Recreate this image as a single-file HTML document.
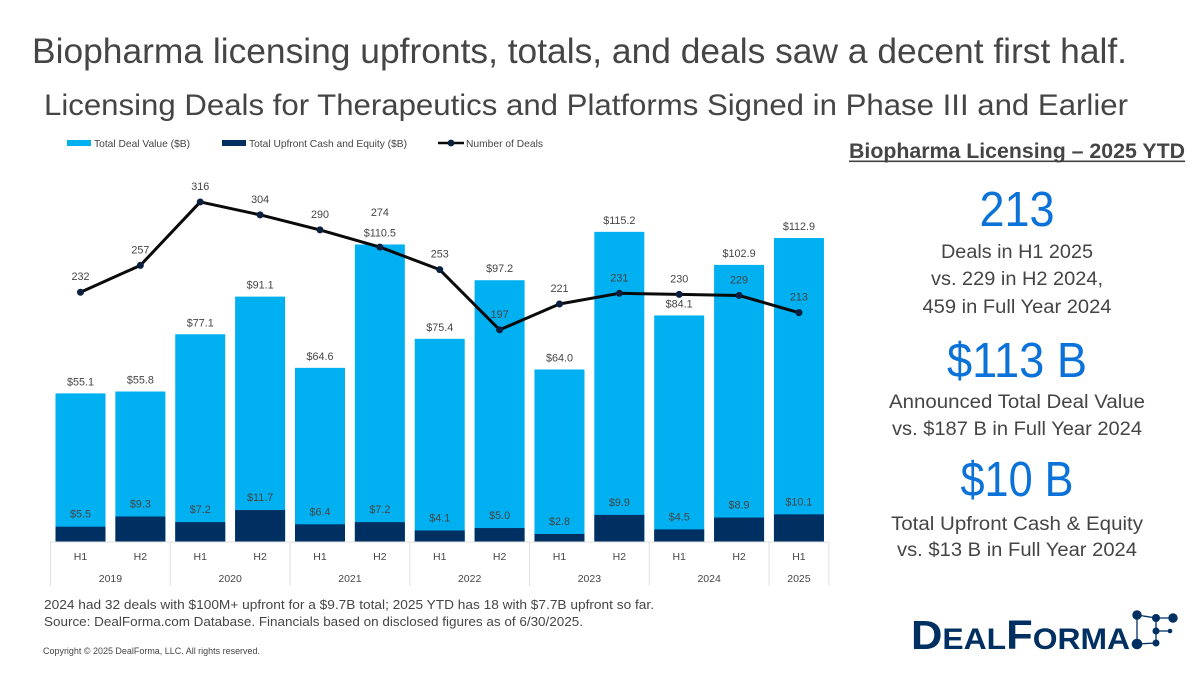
<!DOCTYPE html>
<html lang="en">
<head>
<meta charset="utf-8">
<title>Biopharma licensing</title>
<style>
html,body{margin:0;padding:0;background:#fff;}
body{width:1200px;height:675px;overflow:hidden;}
svg{display:block;font-family:"Liberation Sans",sans-serif;}
text{fill:#454545;}
.c{text-anchor:middle;}
</style>
</head>
<body>
<svg id="slide" width="1200" height="675" viewBox="0 0 1200 675" xmlns="http://www.w3.org/2000/svg">
  <rect width="1200" height="675" fill="#fff"/>
  <text x="32" y="63" font-size="35" textLength="1095" lengthAdjust="spacingAndGlyphs">Biopharma licensing upfronts, totals, and deals saw a decent first half.</text>
  <text x="44" y="115" font-size="30" textLength="1084" lengthAdjust="spacingAndGlyphs">Licensing Deals for Therapeutics and Platforms Signed in Phase III and Earlier</text>

  <g>
    <rect x="67" y="140" width="24" height="6" fill="#00B0F0"/>
    <text x="94" y="147" font-size="10.5" textLength="96" lengthAdjust="spacingAndGlyphs">Total Deal Value ($B)</text>
    <rect x="222" y="140" width="24" height="6" fill="#002F62"/>
    <text x="249" y="147" font-size="10.5" textLength="158" lengthAdjust="spacingAndGlyphs">Total Upfront Cash and Equity ($B)</text>
    <line x1="438" y1="143" x2="464" y2="143" stroke="#0a0a0a" stroke-width="2.6"/>
    <circle cx="451" cy="143" r="3.4" fill="#0b1f3f"/>
    <text x="466" y="147" font-size="10.5" textLength="77" lengthAdjust="spacingAndGlyphs">Number of Deals</text>
  </g>

  <g id="chart"></g>

  <text x="44" y="609" font-size="13.2" textLength="610" lengthAdjust="spacingAndGlyphs">2024 had 32 deals with $100M+ upfront for a $9.7B total; 2025 YTD has 18 with $7.7B upfront so far.</text>
  <text x="44" y="626" font-size="13.2" textLength="539" lengthAdjust="spacingAndGlyphs">Source: DealForma.com Database. Financials based on disclosed figures as of 6/30/2025.</text>
  <text x="43" y="654" font-size="9" textLength="217" lengthAdjust="spacingAndGlyphs">Copyright © 2025 DealForma, LLC. All rights reserved.</text>

  <g>
    <text x="849" y="158" font-size="21" font-weight="bold" textLength="336" lengthAdjust="spacingAndGlyphs">Biopharma Licensing – 2025 YTD</text>
    <rect x="849" y="160.5" width="336" height="1.6" fill="#404040"/>
    <text class="c" x="1017" y="226" font-size="49" style="fill:#0B72D9" textLength="75" lengthAdjust="spacingAndGlyphs">213</text>
    <text class="c" x="1017" y="258" font-size="19" textLength="152" lengthAdjust="spacingAndGlyphs">Deals in H1 2025</text>
    <text class="c" x="1017" y="285" font-size="19" textLength="172" lengthAdjust="spacingAndGlyphs">vs. 229 in H2 2024,</text>
    <text class="c" x="1017" y="313" font-size="19" textLength="189" lengthAdjust="spacingAndGlyphs">459 in Full Year 2024</text>
    <text class="c" x="1017" y="377" font-size="49" style="fill:#0B72D9" textLength="140" lengthAdjust="spacingAndGlyphs">$113 B</text>
    <text class="c" x="1017" y="408" font-size="19" textLength="256" lengthAdjust="spacingAndGlyphs">Announced Total Deal Value</text>
    <text class="c" x="1017" y="435" font-size="19" textLength="250" lengthAdjust="spacingAndGlyphs">vs. $187 B in Full Year 2024</text>
    <text class="c" x="1017" y="496" font-size="49" style="fill:#0B72D9" textLength="113" lengthAdjust="spacingAndGlyphs">$10 B</text>
    <text class="c" x="1017" y="530" font-size="19" textLength="252" lengthAdjust="spacingAndGlyphs">Total Upfront Cash &amp; Equity</text>
    <text class="c" x="1017" y="556" font-size="19" textLength="240" lengthAdjust="spacingAndGlyphs">vs. $13 B in Full Year 2024</text>
  </g>

  <g>
    <text x="911" y="649" font-size="30" font-weight="bold" style="fill:#002F62" textLength="219" lengthAdjust="spacingAndGlyphs"><tspan font-size="41">D</tspan>EAL<tspan font-size="41">F</tspan>ORMA</text>
    <g stroke="#002F62" stroke-width="1.3" fill="#002F62">
      <line x1="1137" y1="615" x2="1156" y2="618"/>
      <line x1="1156" y1="618" x2="1173" y2="618"/>
      <line x1="1137" y1="615" x2="1137" y2="644"/>
      <line x1="1156" y1="618" x2="1156" y2="643"/>
      <line x1="1156" y1="631" x2="1170" y2="631"/>
      <line x1="1137" y1="644" x2="1156" y2="643"/>
      <circle cx="1137" cy="615" r="4.7" stroke="none"/>
      <circle cx="1156" cy="618" r="4" stroke="none"/>
      <circle cx="1173" cy="618" r="4.7" stroke="none"/>
      <circle cx="1156" cy="631" r="3.5" stroke="none"/>
      <circle cx="1170" cy="631" r="2.3" stroke="none"/>
      <circle cx="1137" cy="644" r="5.3" stroke="none"/>
      <circle cx="1156" cy="643" r="3.5" stroke="none"/>
    </g>
  </g>
</svg>
<script>
const halves = ["H1","H2","H1","H2","H1","H2","H1","H2","H1","H2","H1","H2","H1"];
const years = ["2019","2020","2021","2022","2023","2024","2025"];
const yearSpans = [2,2,2,2,2,2,1];
const totalValue = [55.1,55.8,77.1,91.1,64.6,110.5,75.4,97.2,64.0,115.2,84.1,102.9,112.9];
const upfrontValue = [5.5,9.3,7.2,11.7,6.4,7.2,4.1,5.0,2.8,9.9,4.5,8.9,10.1];
const dealCount = [232,257,316,304,290,274,253,197,221,231,230,229,213];

const NS = "http://www.w3.org/2000/svg";
const chart = document.getElementById("chart");
const baseY = 541.5;
const x0 = 80.5, stepX = 59.87, barW = 50;
const xAt = i => x0 + i * stepX;
const yBar = v => baseY - v * 2.688;
const yDeal = v => baseY - v * 1.0745;

function make(tag, attrs, parent) {
  const el = document.createElementNS(NS, tag);
  for (const k in attrs) el.setAttribute(k, attrs[k]);
  (parent || chart).appendChild(el);
  return el;
}
function label(str, x, y, size) {
  const t = make("text", {x: x, y: y, "font-size": size, "text-anchor": "middle"});
  t.textContent = str;
  return t;
}

totalValue.forEach((v, i) => {
  const r = make("rect", {x: xAt(i) - barW / 2, y: yBar(v), width: barW, height: baseY - yBar(v), fill: "#00B0F0"});
  
  
});
upfrontValue.forEach((v, i) => {
  const r = make("rect", {x: xAt(i) - barW / 2, y: yBar(v), width: barW, height: baseY - yBar(v), fill: "#002F62"});
  
  
});

const axis = make("g", {stroke: "#E0E0E0", "stroke-width": 1});


const axisLeft = xAt(0) - stepX / 2;
const axisRight = xAt(halves.length - 1) + stepX / 2;
make("line", {x1: axisLeft, y1: baseY + 0.5, x2: axisRight, y2: baseY + 0.5}, axis);
let idx = 0;
make("line", {x1: axisLeft, y1: baseY, x2: axisLeft, y2: 586}, axis);
yearSpans.forEach((span, j) => {
  const left = xAt(idx) - stepX / 2;
  const right = left + span * stepX;
  make("line", {x1: right, y1: baseY, x2: right, y2: 586}, axis);
  const t = label(years[j], (left + right) / 2, 582, 10.5);
  
  
  idx += span;
});
halves.forEach((h, i) => {
  const t = label(h, xAt(i), 560, 10.5);
  
  
});

const line = make("polyline", {
  points: dealCount.map((v, i) => xAt(i) + "," + yDeal(v)).join(" "),
  fill: "none", stroke: "#0a0a0a", "stroke-width": 3, "stroke-linejoin": "round"
});


dealCount.forEach((v, i) => {
  const c = make("circle", {cx: xAt(i), cy: yDeal(v), r: 3.5, fill: "#0b1f3f"});
  
  
});

totalValue.forEach((v, i) => {
  const t = label("$" + v.toFixed(1), xAt(i), yBar(v) - 8, 10.8);
  
  
});
upfrontValue.forEach((v, i) => {
  const t = label("$" + v.toFixed(1), xAt(i), yBar(v) - 9, 10.8);
  
  
});
dealCount.forEach((v, i) => {
  const lift = i === 5 ? 31 : 12;
  const t = label(String(v), xAt(i), yDeal(v) - lift, 10.8);
  
  
});
</script>
</body>
</html>
